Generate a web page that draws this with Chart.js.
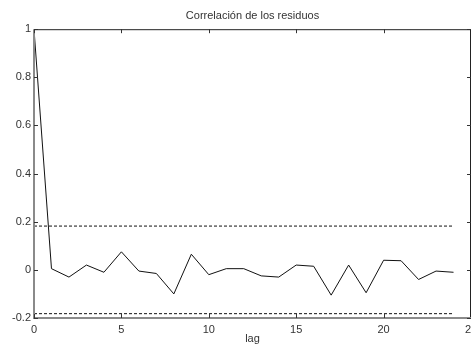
<!DOCTYPE html>
<html>
<head>
<meta charset="utf-8">
<script src="https://cdn.jsdelivr.net/npm/chart.js@4/dist/chart.umd.min.js"></script>
<style>
  html, body { margin: 0; padding: 0; background: #fff; overflow: hidden; }
  #wrap { width: 471px; height: 346px; }
</style>
</head>
<body>
<div id="wrap"><canvas id="acf"></canvas></div>
<script>
// lags and residual autocorrelation
var lags = [0, 1, 2, 3, 4, 5, 6, 7, 8, 9, 10, 11, 12, 13, 14, 15, 16, 17, 18, 19, 20, 21, 22, 23, 24]
var acf  = [1, 0.005, -0.03, 0.02, -0.01, 0.075, -0.005, -0.015, -0.10, 0.065, -0.02, 0.005,
            0.005, -0.025, -0.03, 0.02, 0.015, -0.105, 0.02, -0.095, 0.04, 0.038, -0.04, -0.005, -0.01]
// confidence band
var bandUpper = 0.182
var bandLower = -0.182
var xTicks = [0, 5, 10, 15, 20, 25]
var yTicks = [-0.2, 0, 0.2, 0.4, 0.6, 0.8, 1]

var font = "'Liberation Sans', Arial, sans-serif"

function pts(xs, ys) {
  return xs.map(function (x, i) { return { x: x, y: ys[i] } })
}
var first = lags[0], last = lags[lags.length - 1]

// MATLAB style box with ticks pointing inward
var boxPlugin = {
  id: 'matlabBox',
  afterDraw: function (chart) {
    var ctx = chart.ctx, a = chart.chartArea
    var xs = chart.scales.x, ys = chart.scales.y
    ctx.save()
    ctx.strokeStyle = '#222'
    ctx.lineWidth = 1
    ctx.beginPath()
    ctx.moveTo(a.left, a.top + 0.5); ctx.lineTo(a.right, a.top + 0.5)
    ctx.moveTo(a.right - 0.5, a.top); ctx.lineTo(a.right - 0.5, a.bottom)
    ctx.stroke()
    ctx.strokeStyle = '#8a8a8a'
    ctx.lineWidth = 2
    ctx.beginPath()
    ctx.moveTo(a.left, a.top); ctx.lineTo(a.left, a.bottom)
    ctx.lineTo(a.right, a.bottom)
    ctx.stroke()
    ctx.strokeStyle = '#333'
    ctx.lineWidth = 1
    ctx.beginPath()
    xTicks.forEach(function (t) {
      var px = Math.round(xs.getPixelForValue(t)) + 0.5
      ctx.moveTo(px, a.bottom); ctx.lineTo(px, a.bottom - 4)
      ctx.moveTo(px, a.top); ctx.lineTo(px, a.top + 4)
    })
    yTicks.forEach(function (t) {
      var py = Math.round(ys.getPixelForValue(t)) + 0.5
      ctx.moveTo(a.left, py); ctx.lineTo(a.left + 4, py)
      ctx.moveTo(a.right, py); ctx.lineTo(a.right - 4, py)
    })
    ctx.stroke()
    ctx.restore()
  }
}

new Chart(document.getElementById('acf').getContext('2d'), {
  type: 'line',
  data: {
    datasets: [
      {
        label: 'acf',
        data: pts(lags, acf),
        borderColor: '#111',
        borderWidth: 1,
        pointRadius: 0,
        tension: 0
      },
      {
        label: 'upper',
        data: [{ x: first, y: bandUpper }, { x: last, y: bandUpper }],
        borderColor: '#111',
        borderWidth: 1,
        borderDash: [3, 2],
        pointRadius: 0
      },
      {
        label: 'lower',
        data: [{ x: first, y: bandLower }, { x: last, y: bandLower }],
        borderColor: '#111',
        borderWidth: 1,
        borderDash: [3, 2],
        pointRadius: 0
      }
    ]
  },
  options: {
    responsive: true,
    maintainAspectRatio: false,
    animation: false,
    layout: { padding: { left: 0, right: 0, top: 0, bottom: 0 } },
    plugins: {
      legend: { display: false },
      tooltip: { enabled: false },
      title: {
        display: true,
        text: 'Correlación de los residuos',
        fullSize: false,
        color: '#333',
        font: { family: font, size: 11, weight: 'normal' },
        padding: { top: 9, bottom: 7 }
      }
    },
    scales: {
      x: {
        type: 'linear',
        min: 0,
        max: 25,
        afterBuildTicks: function (s) { s.ticks = xTicks.map(function (v) { return { value: v } }) },
        afterFit: function (s) { s.height = 28; s.paddingLeft = 0; s.paddingRight = 0 },
        grid: { display: false, drawTicks: false },
        border: { display: false },
        ticks: {
          color: '#333',
          padding: 5,
          maxRotation: 0,
          autoSkip: false,
          font: { family: font, size: 11 }
        },
        title: {
          display: true,
          text: 'lag',
          color: '#333',
          font: { family: font, size: 11 },
          padding: { top: 0, bottom: 0 }
        }
      },
      y: {
        min: -0.2,
        max: 1,
        afterBuildTicks: function (s) { s.ticks = yTicks.map(function (v) { return { value: v } }) },
        afterFit: function (s) { s.width = 34 },
        grid: { display: false, drawTicks: false },
        border: { display: false },
        ticks: {
          color: '#333',
          padding: 3,
          font: { family: font, size: 11 },
          callback: function (v) { return String(Math.round(v * 10) / 10) }
        }
      }
    }
  },
  plugins: [boxPlugin]
})
</script>
</body>
</html>
